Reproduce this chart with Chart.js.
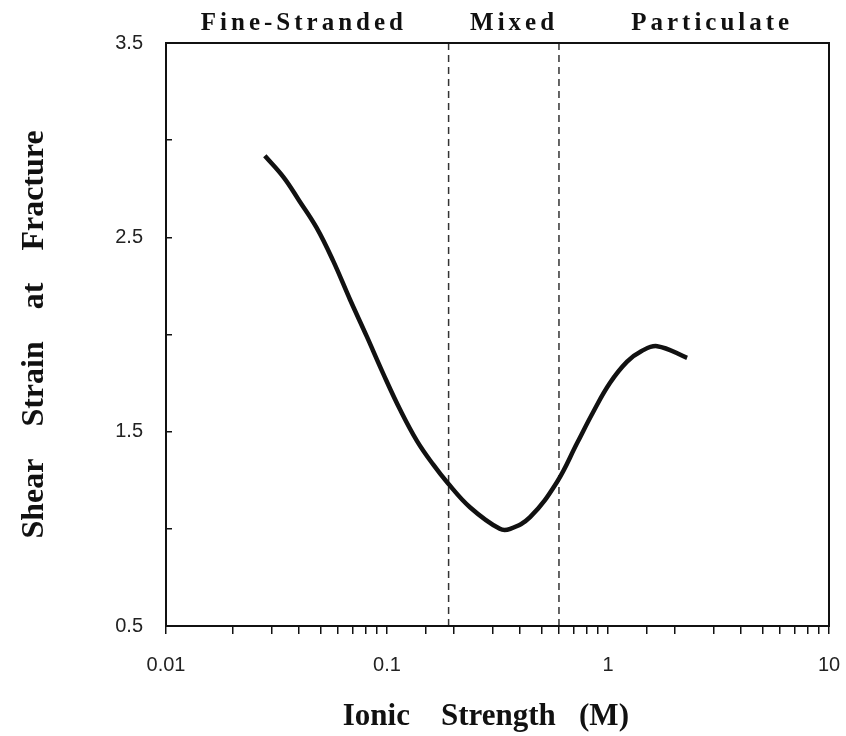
<!DOCTYPE html>
<html>
<head>
<meta charset="utf-8">
<script src="https://cdn.jsdelivr.net/npm/chart.js@4"></script>
<style>
  html, body { margin: 0; padding: 0; background: #fff; }
  #wrap { width: 846px; height: 736px; }
</style>
</head>
<body>
<div id="wrap"><canvas id="chart" width="846" height="736"></canvas></div>
<script>
// ionic strength (M) and shear strain at fracture
const ionicStrength = [0.028, 0.034, 0.040, 0.048, 0.057, 0.068, 0.081, 0.096, 0.115, 0.137, 0.162, 0.187, 0.238, 0.324, 0.361, 0.444, 0.587, 0.724, 0.856, 1.02, 1.22, 1.42, 1.67, 2.28];
const shearStrain = [2.92, 2.81, 2.69, 2.55, 2.38, 2.18, 1.99, 1.80, 1.61, 1.45, 1.33, 1.24, 1.11, 1.00, 1.00, 1.06, 1.24, 1.44, 1.60, 1.75, 1.86, 1.915, 1.94, 1.88];

// region boundaries and labels
const boundaries = [0.19, 0.6];
const regionNames = ['Fine-Stranded', 'Mixed', 'Particulate'];
const regionLabelAt = [0.0412, 0.368, 2.9];

const xTickLabels = ['0.01', '0.1', '1', '10'];
const yTickLabels = ['0.5', '1.5', '2.5', '3.5'];

const serif = '"Liberation Serif", "DejaVu Serif", serif';
const sans = '"Liberation Sans", Arial, sans-serif';

const datasets = [
    {
        label: 'Shear strain',
        data: ionicStrength.map((x, i) => ({ x: x, y: shearStrain[i] })),
        borderColor: '#111',
        borderWidth: 4.5,
        pointRadius: 0,
        fill: false,
        tension: 0.4
    }
];
boundaries.forEach(b => {
    datasets.push({
        label: 'boundary',
        data: [{ x: b, y: 0.5 }, { x: b, y: 3.5 }],
        borderColor: '#333',
        borderWidth: 1.5,
        borderDash: [7, 5],
        pointRadius: 0,
        fill: false
    });
});

// frame round the plot + region names above it
const framePlugin = {
    id: 'frame',
    afterDraw(chart) {
        const ctx = chart.ctx;
        const a = chart.chartArea;
        ctx.save();
        ctx.strokeStyle = '#111';
        ctx.lineWidth = 2;
        ctx.strokeRect(a.left, a.top, a.right - a.left, a.bottom - a.top);
        ctx.fillStyle = '#111';
        ctx.font = 'bold 25px ' + serif;
        ctx.letterSpacing = '4px';
        ctx.textAlign = 'center';
        ctx.textBaseline = 'alphabetic';
        regionNames.forEach((name, i) => {
            const x = chart.scales.x.getPixelForValue(regionLabelAt[i]);
            ctx.fillText(name, x + 2, a.top - 13);
        });
        ctx.restore();
    }
};

const ctx = document.getElementById('chart').getContext('2d');
const chart = new Chart(ctx, {
    type: 'line',
    data: { datasets: datasets },
    options: {
        responsive: false,
        animation: false,
        layout: { padding: { top: 43, right: 17, left: 0, bottom: 0 } },
        plugins: {
            legend: { display: false },
            tooltip: { enabled: false }
        },
        scales: {
            x: {
                type: 'logarithmic',
                min: 0.01,
                max: 10,
                afterFit: (scale) => {
                    scale.height = 110;
                    scale.paddingLeft = 0;
                    scale.paddingRight = 0;
                },
                border: { color: '#111', width: 2 },
                grid: { drawOnChartArea: false, drawTicks: true, tickLength: 8, color: '#111', lineWidth: 1.5 },
                ticks: {
                    autoSkip: false,
                    maxRotation: 0,
                    padding: 19,
                    color: '#222',
                    font: { family: sans, size: 20 },
                    callback: (v) => {
                        const s = String(Number(v.toPrecision(6)));
                        return xTickLabels.includes(s) ? s : '';
                    }
                },
                title: {
                    display: true,
                    text: 'Ionic    Strength   (M)   ',
                    color: '#111',
                    font: { family: serif, size: 31, weight: 'bold' },
                    padding: { top: 0, bottom: 0 }
                }
            },
            y: {
                min: 0.5,
                max: 3.5,
                afterFit: (scale) => { scale.width = 166; },
                border: { color: '#111', width: 2 },
                grid: { drawOnChartArea: false, drawTicks: true, tickLength: -6, color: '#111', lineWidth: 1.5 },
                ticks: {
                    stepSize: 0.5,
                    padding: 29,
                    color: '#222',
                    font: { family: sans, size: 20 },
                    callback: (v) => {
                        const s = v.toFixed(1);
                        return yTickLabels.includes(s) ? s : '';
                    }
                },
                title: {
                    display: true,
                    text: 'Shear    Strain    at    Fracture',
                    color: '#111',
                    font: { family: serif, size: 32, weight: 'bold' },
                    padding: { top: 16, bottom: 0 }
                }
            }
        }
    },
    plugins: [framePlugin]
});
</script>
</body>
</html>
